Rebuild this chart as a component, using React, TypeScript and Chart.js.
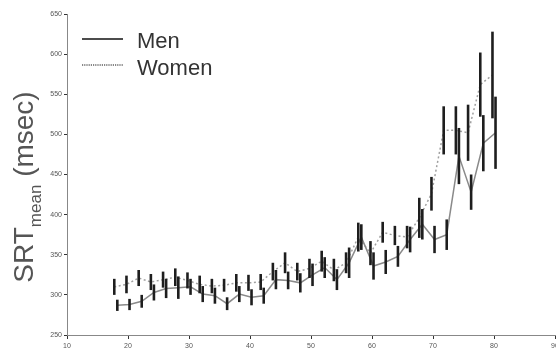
import React, { useEffect, useRef } from "react";
import { Chart, registerables } from "chart.js";

Chart.register(...registerables);

const ages = [18, 20, 22, 24, 26, 28, 30, 32, 34, 36, 38, 40, 42, 44, 46, 48, 50, 52, 54, 56, 58, 60, 62, 64, 66, 68, 70, 72, 74, 76, 78, 80];

const menMean = [287, 288, 292, 303, 308, 309, 310, 301, 299, 289, 301, 297, 299, 319, 318, 315, 325, 334, 319, 340, 372, 336, 341, 348, 369, 388, 369, 375, 473, 428, 489, 502];
const menErr = [7, 7, 8, 10, 12, 14, 10, 10, 10, 8, 10, 10, 10, 12, 11, 12, 14, 13, 13, 19, 16, 17, 15, 13, 16, 19, 17, 19, 35, 22, 35, 45];

const womenMean = [310, 313, 321, 316, 319, 322, 318, 313, 311, 312, 315, 315, 316, 329, 340, 329, 333, 342, 331, 340, 372, 352, 378, 374, 372, 396, 426, 505, 505, 502, 562, 574];
const womenErr = [10, 11, 10, 10, 10, 11, 10, 11, 9, 8, 11, 10, 10, 11, 13, 11, 12, 13, 14, 13, 18, 15, 13, 12, 14, 25, 21, 30, 30, 35, 40, 54];

const xTicks = [10, 20, 30, 40, 50, 60, 70, 80, 90];
const yTicks = [250, 300, 350, 400, 450, 500, 550, 600, 650];

const seriesNames = ["Men", "Women"];
const yTitleMain = "SRT";
const yTitleSub = "mean";
const yTitleUnit = "(msec)";

const FONT = "'Liberation Sans', Arial, sans-serif";

const errorBarPlugin = {
  id: "errorBars",
  afterDatasetsDraw(chart: any) {
    const { ctx } = chart;
    const xs = chart.scales.x;
    const ys = chart.scales.y;
    const errs = [menErr, womenErr];
    chart.data.datasets.forEach((ds: any, di: number) => {
      ctx.save();
      ctx.strokeStyle = "#1e1e1e";
      ctx.lineWidth = 2.6;
      ctx.lineCap = "butt";
      ds.data.forEach((p: any, i: number) => {
        const px = xs.getPixelForValue(p.x);
        const y1 = ys.getPixelForValue(p.y - errs[di][i]);
        const y2 = ys.getPixelForValue(p.y + errs[di][i]);
        ctx.beginPath();
        ctx.moveTo(px, y1);
        ctx.lineTo(px, y2);
        ctx.stroke();
      });
      ctx.restore();
    });
  },
};

const decorPlugin = {
  id: "decor",
  afterDraw(chart: any) {
    const { ctx } = chart;
    ctx.save();
    // Legend
    ctx.strokeStyle = "#111";
    ctx.lineWidth = 1.3;
    ctx.beginPath();
    ctx.moveTo(82, 39);
    ctx.lineTo(123, 39);
    ctx.stroke();
    ctx.setLineDash([1.2, 1]);
    ctx.lineWidth = 1;
    ctx.beginPath();
    ctx.moveTo(82, 65);
    ctx.lineTo(123, 65);
    ctx.stroke();
    ctx.setLineDash([]);
    ctx.fillStyle = "#333";
    ctx.font = `22px ${FONT}`;
    ctx.textBaseline = "alphabetic";
    ctx.textAlign = "left";
    ctx.fillText(seriesNames[0], 137, 48);
    ctx.fillText(seriesNames[1], 137, 75);

    // Y title (rotated, with subscript)
    ctx.translate(33, 0);
    ctx.rotate(-Math.PI / 2);
    ctx.fillStyle = "#555";
    const big = `28px ${FONT}`;
    const small = `17px ${FONT}`;
    ctx.font = big;
    const w1 = ctx.measureText(yTitleMain).width;
    const wsp = ctx.measureText(" ").width;
    const w3 = ctx.measureText(yTitleUnit).width;
    ctx.font = small;
    const w2 = ctx.measureText(yTitleSub).width;
    const total = w1 + w2 + wsp + w3;
    const center = -187;
    let x = center - total / 2;
    ctx.font = big;
    ctx.fillText(yTitleMain, x, 0);
    x += w1;
    ctx.font = small;
    ctx.fillText(yTitleSub, x, 8);
    x += w2 + wsp;
    ctx.font = big;
    ctx.fillText(yTitleUnit, x, 0);
    ctx.restore();
  },
};

export default function App() {
  const ref = useRef<HTMLCanvasElement | null>(null);
  useEffect(() => {
    document.body.style.margin = "0";
    if (!ref.current) return;
    const menData = ages.map((a, i) => ({ x: a + 0.25, y: menMean[i] }));
    const womenData = ages.map((a, i) => ({ x: a - 0.25, y: womenMean[i] }));
    const chart = new Chart(ref.current, {
      type: "line",
      data: {
        datasets: [
          {
            label: seriesNames[0],
            data: menData,
            borderColor: "#8a8a8a",
            borderWidth: 1.5,
            pointRadius: 0,
            tension: 0,
          },
          {
            label: seriesNames[1],
            data: womenData,
            borderColor: "#a0a0a0",
            borderWidth: 1.5,
            borderDash: [2, 2.5],
            pointRadius: 0,
            tension: 0,
          },
        ],
      },
      options: {
        animation: false,
        responsive: false,
        devicePixelRatio: 1,
        layout: { padding: { top: 14, right: 1, left: 0, bottom: 0 } },
        plugins: { legend: { display: false }, tooltip: { enabled: false } },
        scales: {
          x: {
            type: "linear",
            min: 10,
            max: 90,
            afterBuildTicks: (s: any) => {
              s.ticks = xTicks.map((v) => ({ value: v }));
            },
            afterFit: (s: any) => {
              s.height = 23;
              s.paddingLeft = 0;
              s.paddingRight = 0;
            },
            grid: { display: true, drawOnChartArea: false, drawTicks: true, tickLength: 4, color: "#333", lineWidth: 1 },
            border: { display: true, color: "#888", width: 1 },
            ticks: { color: "#555", font: { family: FONT, size: 7 }, padding: 3, maxRotation: 0, autoSkip: false },
          },
          y: {
            type: "linear",
            min: 250,
            max: 650,
            afterBuildTicks: (s: any) => {
              s.ticks = yTicks.map((v) => ({ value: v }));
            },
            afterFit: (s: any) => {
              s.width = 67;
              s.paddingTop = 0;
              s.paddingBottom = 0;
            },
            grid: { display: true, drawOnChartArea: false, drawTicks: true, tickLength: 3, color: "#333", lineWidth: 1 },
            border: { display: true, color: "#888", width: 1 },
            ticks: { color: "#555", font: { family: FONT, size: 7 }, padding: 2, autoSkip: false },
          },
        },
      },
      plugins: [errorBarPlugin, decorPlugin],
    });
    return () => chart.destroy();
  }, []);
  return <canvas ref={ref} width={556} height={358} style={{ display: "block" }} />;
}
